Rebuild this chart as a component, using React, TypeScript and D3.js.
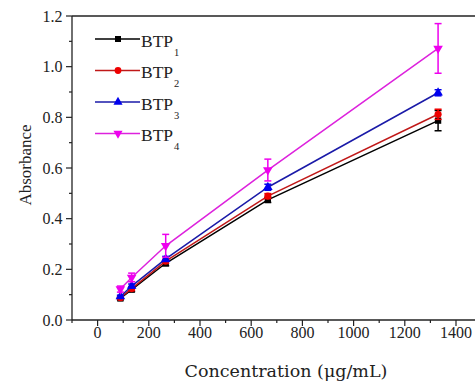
import { useEffect, useRef } from 'react';
import * as d3 from 'd3';

const concentrations = [89, 133, 266, 665, 1330];
const btp1 = [0.085, 0.12, 0.224, 0.474, 0.787];
const btp1Err = [0.005, 0.008, 0.01, 0.01, 0.04];
const btp2 = [0.088, 0.124, 0.232, 0.489, 0.812];
const btp2Err = [0.005, 0.008, 0.008, 0.01, 0.02];
const btp3 = [0.093, 0.134, 0.241, 0.524, 0.897];
const btp3Err = [0.005, 0.008, 0.01, 0.012, 0.012];
const btp4 = [0.122, 0.168, 0.293, 0.592, 1.072];
const btp4Err = [0.012, 0.017, 0.045, 0.043, 0.098];
const seriesNames = ['1', '2', '3', '4'];
const xTicks = [0, 200, 400, 600, 800, 1000, 1200, 1400];
const yTicks = [0, 0.2, 0.4, 0.6, 0.8, 1.0, 1.2];

const series = [
  { sub: seriesNames[0], values: btp1, err: btp1Err, color: '#000000', line: '#000000', symbol: d3.symbolSquare },
  { sub: seriesNames[1], values: btp2, err: btp2Err, color: '#ee0000', line: '#c01818', symbol: d3.symbolCircle },
  { sub: seriesNames[2], values: btp3, err: btp3Err, color: '#0000ee', line: '#1a1aa8', symbol: d3.symbolTriangle },
  { sub: seriesNames[3], values: btp4, err: btp4Err, color: '#ee00ee', line: '#dd22dd', symbol: 'down' },
];

const W = 475;
const H = 383;

export default function App() {
  const ref = useRef<SVGSVGElement>(null);

  useEffect(() => {
    const svg = d3.select(ref.current);
    svg.selectAll('*').remove();

    const x = d3.scaleLinear().domain([-100, 1500]).range([72, 481.6]);
    const y = d3.scaleLinear().domain([0, 1.2]).range([320, 16]);
    const font = '"Liberation Serif", "Times New Roman", serif';
    const wideFont = '"DejaVu Serif", serif';

    const markerPath = (sym: any, size: number) => {
      if (sym === 'down') {
        return d3.symbol().type(d3.symbolTriangle).size(size)();
      }
      return d3.symbol().type(sym).size(size)();
    };

    // frame: top border (right border is off-canvas)
    svg.append('line')
      .attr('x1', 72).attr('x2', 481.6).attr('y1', 16).attr('y2', 16)
      .attr('stroke', '#222').attr('stroke-width', 1.3);

    // x axis
    const xAxis = svg.append('g');
    xAxis.append('line')
      .attr('x1', 72).attr('x2', 481.6).attr('y1', 320).attr('y2', 320)
      .attr('stroke', '#222').attr('stroke-width', 1.3);
    d3.range(-100, 1501, 100).forEach(v => {
      const major = v % 200 === 0;
      xAxis.append('line')
        .attr('x1', x(v)).attr('x2', x(v)).attr('y1', 320).attr('y2', major ? 326 : 323)
        .attr('stroke', '#222').attr('stroke-width', 1.2);
    });
    xAxis.selectAll('text.tick')
      .data(xTicks)
      .enter()
      .append('text')
      .attr('x', d => x(d))
      .attr('y', 338)
      .attr('text-anchor', 'middle')
      .style('font-family', font)
      .style('font-size', '16px')
      .attr('fill', '#222')
      .text(d => d);

    // y axis
    const yAxis = svg.append('g');
    yAxis.append('line')
      .attr('x1', 72).attr('x2', 72).attr('y1', 16).attr('y2', 320)
      .attr('stroke', '#222').attr('stroke-width', 1.3);
    d3.range(0, 13).forEach(i => {
      const v = i / 10;
      const major = i % 2 === 0;
      yAxis.append('line')
        .attr('x1', major ? 66 : 69).attr('x2', 72).attr('y1', y(v)).attr('y2', y(v))
        .attr('stroke', '#222').attr('stroke-width', 1.2);
    });
    yAxis.selectAll('text.tick')
      .data(yTicks)
      .enter()
      .append('text')
      .attr('x', 62.5)
      .attr('y', d => y(d))
      .attr('dy', '0.35em')
      .attr('text-anchor', 'end')
      .style('font-family', font)
      .style('font-size', '16px')
      .attr('fill', '#222')
      .text(d => d.toFixed(1));

    // axis titles
    svg.append('text')
      .attr('x', 286)
      .attr('y', 377)
      .attr('text-anchor', 'middle')
      .style('font-family', wideFont)
      .style('font-size', '17.5px')
      .attr('fill', '#222')
      .text('Concentration (μg/mL)');

    svg.append('text')
      .attr('transform', `translate(30.5,165) rotate(-90)`)
      .attr('text-anchor', 'middle')
      .style('font-family', font)
      .style('font-size', '17px')
      .attr('fill', '#222')
      .text('Absorbance');

    // series
    const line = d3.line<number>()
      .x((_, i) => x(concentrations[i]))
      .y(d => y(d));

    series.forEach(s => {
      const g = svg.append('g');
      g.append('path')
        .attr('d', line(s.values))
        .attr('fill', 'none')
        .attr('stroke', s.line)
        .attr('stroke-width', 1.5);

      s.values.forEach((v, i) => {
        const cx = x(concentrations[i]);
        const e = s.err[i];
        g.append('line')
          .attr('x1', cx).attr('x2', cx).attr('y1', y(v - e)).attr('y2', y(v + e))
          .attr('stroke', s.color).attr('stroke-width', 1.5);
        [v - e, v + e].forEach(b => {
          g.append('line')
            .attr('x1', cx - 3.5).attr('x2', cx + 3.5).attr('y1', y(b)).attr('y2', y(b))
            .attr('stroke', s.color).attr('stroke-width', 1.5);
        });
        g.append('path')
          .attr('d', markerPath(s.symbol, 40))
          .attr('transform', `translate(${cx},${y(v)})${s.symbol === 'down' ? ' rotate(180)' : ''}`)
          .attr('fill', s.color);
      });
    });

    // legend
    const legend = svg.append('g');
    series.forEach((s, i) => {
      const ly = 39 + i * 31.5;
      legend.append('line')
        .attr('x1', 95).attr('x2', 140).attr('y1', ly).attr('y2', ly)
        .attr('stroke', s.line).attr('stroke-width', 1.5);
      legend.append('path')
        .attr('d', markerPath(s.symbol, 36))
        .attr('transform', `translate(118,${ly})${s.symbol === 'down' ? ' rotate(180)' : ''}`)
        .attr('fill', s.color);
      const t = legend.append('text')
        .attr('x', 141)
        .attr('y', ly + 7.5)
        .style('font-family', font)
        .style('font-size', '17.5px')
        .attr('fill', '#222');
      t.append('tspan').text('BTP');
      t.append('tspan')
        .attr('dy', 9)
        .attr('dx', 1)
        .style('font-size', '10.5px')
        .text(s.sub);
    });
  }, []);

  return (
    <svg
      ref={ref}
      width={W}
      height={H}
      style={{ position: 'absolute', left: 0, top: 0, background: '#fff' }}
    />
  );
}
